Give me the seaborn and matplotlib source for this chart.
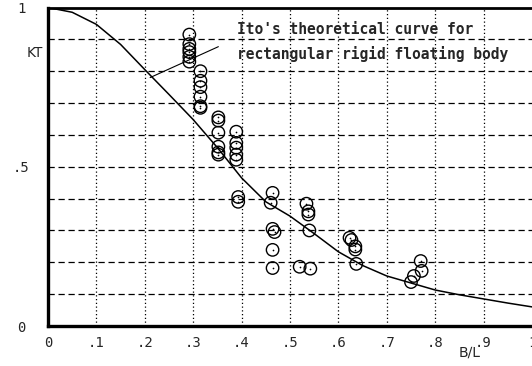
import matplotlib
matplotlib.use("Agg")
import matplotlib.pyplot as plt
import seaborn as sns
import pandas as pd

# --- data ---
bl = [0.292, 0.292, 0.292, 0.292, 0.292, 0.292,
      0.315, 0.315, 0.315, 0.315, 0.315, 0.315,
      0.352, 0.352, 0.352, 0.352, 0.352, 0.352,
      0.389, 0.389, 0.389, 0.389, 0.389,
      0.393, 0.393,
      0.464, 0.460, 0.464, 0.468, 0.464, 0.464,
      0.534, 0.538, 0.538, 0.540, 0.520, 0.542,
      0.623, 0.627, 0.635, 0.635, 0.637,
      0.770, 0.772, 0.756, 0.750]
kt = [0.915, 0.885, 0.870, 0.860, 0.845, 0.830,
      0.800, 0.770, 0.750, 0.720, 0.690, 0.685,
      0.655, 0.645, 0.607, 0.563, 0.545, 0.538,
      0.610, 0.575, 0.560, 0.538, 0.522,
      0.405, 0.390,
      0.418, 0.387, 0.305, 0.295, 0.239, 0.182,
      0.384, 0.360, 0.350, 0.300, 0.186, 0.180,
      0.277, 0.270, 0.250, 0.240, 0.195,
      0.204, 0.173, 0.157, 0.138]

curve_x = [0.0, 0.05, 0.1, 0.15, 0.2, 0.25, 0.3, 0.35, 0.4, 0.45, 0.5,
           0.55, 0.6, 0.65, 0.7, 0.75, 0.8, 0.85, 0.9, 0.95, 1.0]
curve_y = [1.0, 0.985, 0.947, 0.884, 0.805, 0.727, 0.648, 0.56, 0.465, 0.39, 0.345,
           0.29, 0.233, 0.19, 0.157, 0.135, 0.113, 0.098, 0.085, 0.072, 0.06]

xticks = [0, .1, .2, .3, .4, .5, .6, .7, .8, .9, 1]
xticklabels = ["0", ".1", ".2", ".3", ".4", ".5", ".6", ".7", ".8", ".9", "1"]
yticks = [0, .5, 1]
yticklabels = ["0", ".5", "1"]

note_lines = ["Ito's theoretical curve for", "rectangular rigid floating body"]

sns.set_style("white")
plt.rcParams["font.family"] = ["DejaVu Sans"]

fig = plt.figure(figsize=(5.32, 3.66), dpi=100)
ax = fig.add_axes([48 / 532, 1 - 326 / 366, 484 / 532, (326 - 7.5) / 366])

pts = pd.DataFrame({"B/L": bl, "KT": kt})
cur = pd.DataFrame({"B/L": curve_x, "KT": curve_y})

sns.lineplot(data=cur, x="B/L", y="KT", ax=ax, color="black", lw=1.1, zorder=3)
sns.scatterplot(data=pts, x="B/L", y="KT", ax=ax, s=80, marker="o",
                facecolor="none", edgecolor="black", linewidth=1.0, zorder=4)
sns.scatterplot(data=pts, x="B/L", y="KT", ax=ax, s=1.5, marker="o",
                color="black", linewidth=0, zorder=4)

ax.set_xlim(0, 1)
ax.set_ylim(0, 1)

# grid
for gx in xticks[1:-1]:
    ax.axvline(gx, color="black", lw=0.9, ls=(0, (1, 2)), zorder=1)
for gy in [.1, .2, .3, .4, .5, .6, .7, .8, .9]:
    ax.axhline(gy, color="black", lw=0.9, ls=(0, (5, 3)), zorder=1)

ax.set_xticks(xticks)
ax.set_xticklabels(xticklabels, family="DejaVu Sans Mono", fontsize=10)
ax.set_yticks(yticks)
ax.set_yticklabels(yticklabels, family="DejaVu Sans Mono", fontsize=10)
ax.tick_params(axis="x", length=0, pad=7)
ax.tick_params(axis="y", length=0, pad=19)
for lab in ax.get_yticklabels():
    lab.set_ha("center")

ax.set_xlabel("")
ax.set_ylabel("")
ax.text(-0.027, 0.857, "KT", transform=ax.transAxes, ha="center", va="center",
        fontsize=10)
ax.text(0.872, -0.085, "B∕L", transform=ax.transAxes, ha="center", va="center",
        fontsize=10)

for s in ["left", "bottom"]:
    ax.spines[s].set_linewidth(2.4)
    ax.spines[s].set_color("black")
ax.spines["top"].set_linewidth(2.0)
ax.spines["top"].set_color("black")
ax.spines["right"].set_visible(False)

# annotation
ax.annotate("", xy=(0.211, 0.78), xytext=(0.352, 0.877),
            arrowprops=dict(arrowstyle="-", lw=0.8, color="black",
                            shrinkA=0, shrinkB=0))
ax.text(0.391, 0.93, note_lines[0], family="DejaVu Sans Mono", fontweight="bold",
        fontsize=10.5, ha="left", va="center", zorder=5)
ax.text(0.391, 0.853, note_lines[1], family="DejaVu Sans Mono", fontweight="bold",
        fontsize=10.5, ha="left", va="center", zorder=5)

fig.savefig("out.png", dpi=100)
